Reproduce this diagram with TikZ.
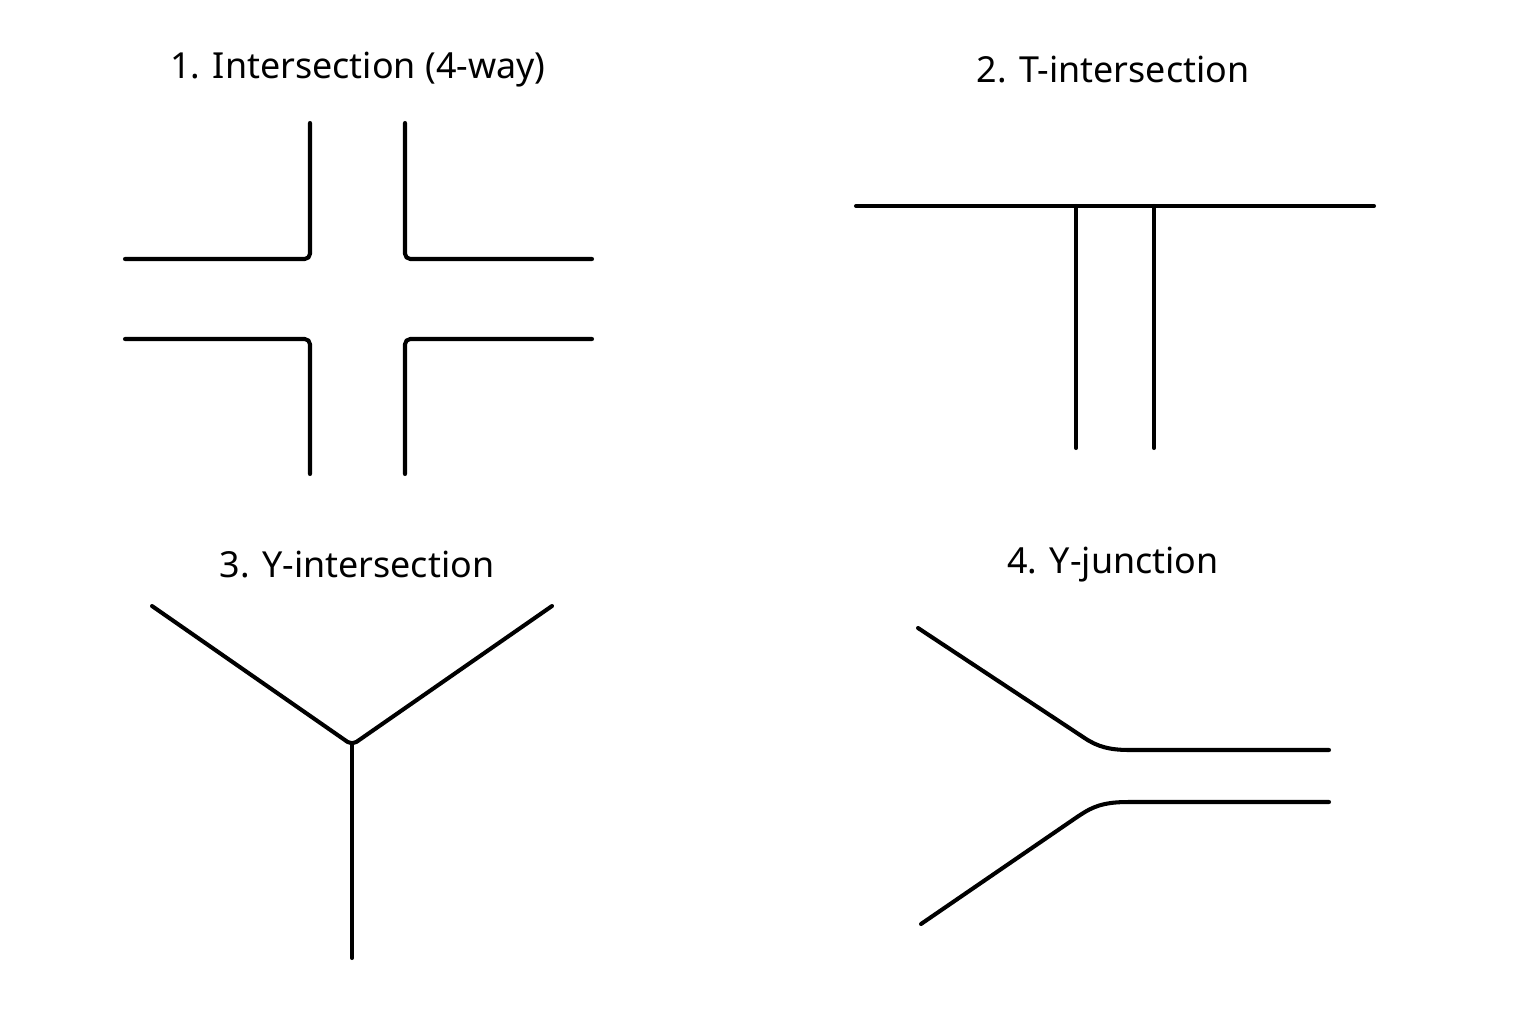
\documentclass[tikz,border=0pt]{standalone}
\usepackage{fontspec}
\setmainfont{Noto Sans}
\begin{document}
\begin{tikzpicture}[x=0.01cm,y=-0.01cm,
  road/.style={line width=1.15pt,line join=round,line cap=round,rounded corners=1.5pt},
  title/.style={font=\bfseries\fontsize{10.2}{12}\selectfont,anchor=center}]
\useasboundingbox (0,0) rectangle (1536,1024);
\fill[white] (0,0) rectangle (1536,1024);
% titles
\node[title] (t1) at (358,70) {1. Intersection (4-way)};
\node[title] (t2) at (1113,70) {2. T-intersection};
\node[title] (t3) at (357,565) {3. Y-intersection};
\node[title] (t4) at (1113,565) {4. Y-junction};
% panel 1
\draw[road] (310,123) -- (310,259) -- (125,259);
\draw[road] (405,123) -- (405,259) -- (592,259);
\draw[road] (125,339) -- (310,339) -- (310,474);
\draw[road] (592,339) -- (405,339) -- (405,474);
% panel 2
\draw[road] (856,206) -- (1374,206);
\draw[road] (1076,206) -- (1076,448);
\draw[road] (1154,206) -- (1154,448);
% panel 3
\draw[road] (152,606) -- (352,745) -- (552,606);
\draw[road] (352,745) -- (352,958);
% panel 4
\draw[road] (918,628) -- (1080,735) .. controls (1098,747) and (1110,750) .. (1135,750) -- (1329,750);
\draw[road] (921,924) -- (1080,815) .. controls (1098,804) and (1110,802) .. (1135,802) -- (1329,802);
\end{tikzpicture}
\end{document}
